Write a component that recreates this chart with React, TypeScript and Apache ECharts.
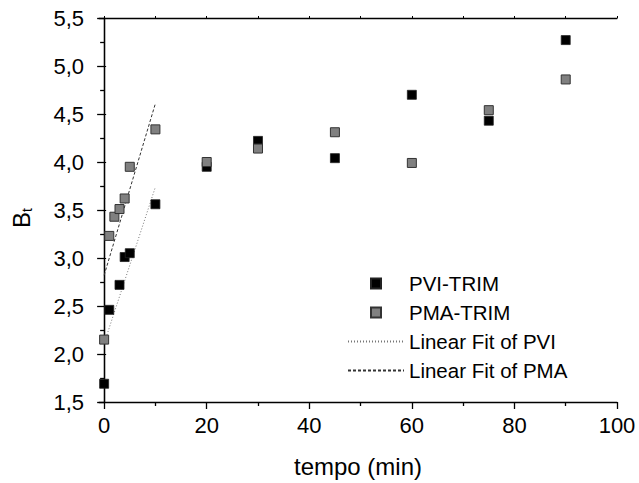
import React, { useEffect, useRef } from "react";
import * as echarts from "echarts";

const timeX = [0, 1, 3, 4, 5, 10, 20, 30, 45, 60, 75, 90];
const pviY = [1.69, 2.46, 2.72, 3.01, 3.05, 3.56, 3.95, 4.22, 4.04, 4.70, 4.43, 5.27];
const pmaX = [0, 1, 2, 3, 4, 5, 10, 20, 30, 45, 60, 75, 90];
const pmaY = [2.15, 3.23, 3.43, 3.51, 3.62, 3.95, 4.34, 4.00, 4.14, 4.31, 3.99, 4.54, 4.86];
const fitX = [0, 10];
const fitPviY = [2.11, 3.74];
const fitPmaY = [2.82, 4.61];
const xMajorTicks = [0, 20, 40, 60, 80, 100];
const xMinorTicks = [10, 30, 50, 70, 90];

const FONT = "'Liberation Sans', Arial, sans-serif";
const SQUARE = "path://M0,0L10,0L10,10L0,10Z";

export default function App() {
  const ref = useRef<HTMLDivElement>(null);
  useEffect(() => {
    if (!ref.current) return;
    const chart = echarts.init(ref.current, undefined, { renderer: "svg" });
    const axisLine = { show: true, lineStyle: { color: "#000", width: 1.3 } };
    chart.setOption({
      animation: false,
      backgroundColor: "#fff",
      textStyle: { fontFamily: FONT },
      grid: { left: 99, right: 22, top: 18, bottom: 81, containLabel: false },
      legend: {
        orient: "vertical",
        left: 342,
        top: 268,
        itemWidth: 56,
        itemHeight: 10,
        itemGap: 8,
        symbolKeepAspect: true,
        textStyle: { fontSize: 20.5, color: "#000", fontFamily: FONT },
        data: [
          { name: "PVI-TRIM", icon: SQUARE },
          { name: "PMA-TRIM", icon: SQUARE },
          { name: "Linear Fit of PVI", itemStyle: { opacity: 0 } },
          { name: "Linear Fit of PMA", itemStyle: { opacity: 0 } },
        ],
      },
      xAxis: [
        {
          type: "value",
          min: -1,
          max: 100,
          position: "bottom",
          axisLine,
          splitLine: { show: false },
          axisTick: { show: true, customValues: xMajorTicks, length: 7, lineStyle: { color: "#000", width: 1.3 } },
          axisLabel: { customValues: xMajorTicks, fontSize: 22, color: "#000", margin: 12, fontFamily: FONT },
          name: "tempo (min)",
          nameLocation: "middle",
          nameGap: 52,
          nameTextStyle: { fontSize: 24, color: "#000", fontFamily: FONT },
        },
        {
          type: "value",
          min: -1,
          max: 100,
          position: "bottom",
          offset: 0,
          axisLine: { show: false },
          splitLine: { show: false },
          axisTick: { show: true, customValues: xMinorTicks, length: 4, lineStyle: { color: "#000", width: 1.3 } },
          axisLabel: { show: false },
        },
        {
          type: "value",
          min: -1,
          max: 100,
          position: "top",
          axisLine,
          splitLine: { show: false },
          axisTick: { show: true, customValues: [...xMajorTicks, ...xMinorTicks], length: 2, lineStyle: { color: "#000" } },
          axisLabel: { show: false },
        },
      ],
      yAxis: [
        {
          type: "value",
          min: 1.5,
          max: 5.5,
          interval: 0.5,
          position: "left",
          axisLine,
          splitLine: { show: false },
          axisTick: { show: true, length: 7, lineStyle: { color: "#000", width: 1.3 } },
          minorTick: { show: true, splitNumber: 2, length: 4, lineStyle: { color: "#000", width: 1.3 } },
          axisLabel: {
            fontSize: 22,
            color: "#000",
            margin: 15,
            fontFamily: FONT,
            formatter: (v: number) => v.toFixed(1).replace(".", ","),
          },
          name: "{b|B}{s|t}",
          nameLocation: "middle",
          nameGap: 65,
          nameRotate: 90,
          nameTextStyle: {
            fontFamily: FONT,
            padding: [0, 0, 0, -16],
            rich: {
              b: { fontSize: 24, color: "#000", fontFamily: FONT },
              s: { fontSize: 14, color: "#000", fontFamily: FONT, padding: [12, 0, 0, 0] },
            },
          },
        },
        {
          type: "value",
          min: 1.5,
          max: 5.5,
          interval: 0.5,
          position: "right",
          axisLine,
          splitLine: { show: false },
          axisTick: { show: true, length: 2, lineStyle: { color: "#000" } },
          axisLabel: { show: false },
        },
      ],
      series: [
        {
          name: "PVI-TRIM",
          type: "scatter",
          symbol: "rect",
          symbolSize: 9,
          itemStyle: { color: "#000", borderColor: "#222", borderWidth: 0.8, opacity: 1 },
          data: timeX.map((x, i) => [x, pviY[i]]),
          z: 3,
        },
        {
          name: "PMA-TRIM",
          type: "scatter",
          symbol: "rect",
          symbolSize: 9,
          itemStyle: { color: "#808080", borderColor: "#333", borderWidth: 1, opacity: 1 },
          data: pmaX.map((x, i) => [x, pmaY[i]]),
          z: 4,
        },
        {
          name: "Linear Fit of PVI",
          type: "line",
          symbol: "none",
          showSymbol: false,
          lineStyle: { color: "#777", width: 1, type: [1, 2] },
          itemStyle: { color: "#777" },
          data: fitX.map((x, i) => [x, fitPviY[i]]),
          z: 2,
        },
        {
          name: "Linear Fit of PMA",
          type: "line",
          symbol: "none",
          showSymbol: false,
          lineStyle: { color: "#333", width: 1, type: [3, 2] },
          itemStyle: { color: "#333" },
          data: fitX.map((x, i) => [x, fitPmaY[i]]),
          z: 2,
        },
      ],
    });
    return () => chart.dispose();
  }, []);
  return <div ref={ref} style={{ width: 639, height: 483, position: "absolute", left: 0, top: 0 }} />;
}
